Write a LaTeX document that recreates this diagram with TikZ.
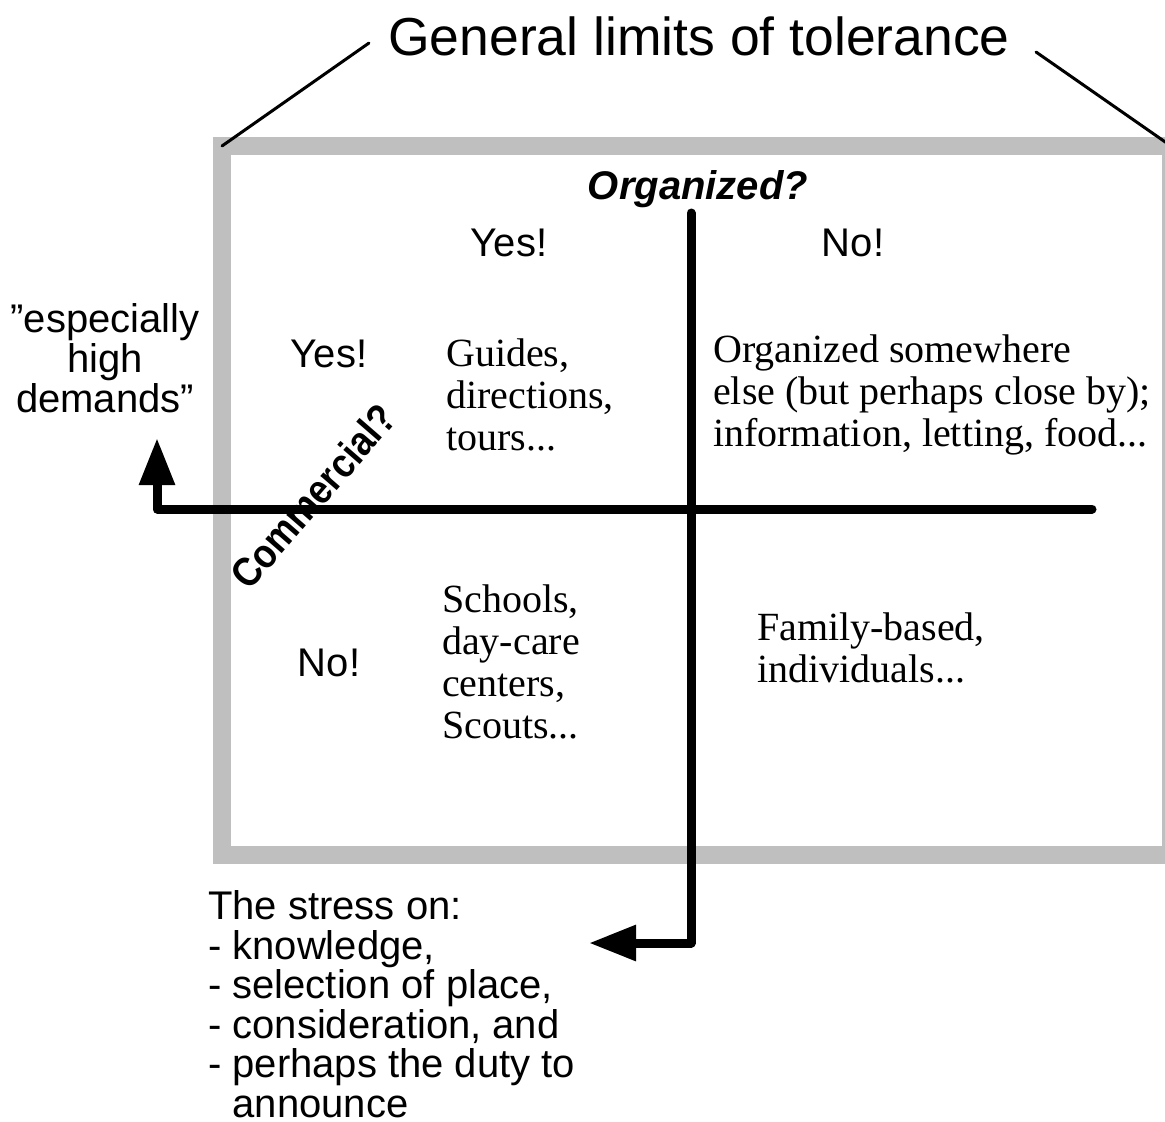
\documentclass[tikz,border=0pt]{standalone}
\usepackage{fontspec}
\setmainfont{Liberation Serif}
\setsansfont{Liberation Sans}
\usetikzlibrary{arrows.meta}
\definecolor{framegray}{RGB}{191,191,191}
\begin{document}
\begin{tikzpicture}[x=1pt,y=-1pt,
  sanslabel/.style={font=\sffamily\fontsize{40}{40}\selectfont, inner sep=0pt, anchor=base},
  sansblock/.style={font=\sffamily\fontsize{40}{39.5}\selectfont, inner sep=0pt, align=left, anchor=base west},
  seriftext/.style={font=\rmfamily\fontsize{40}{42}\selectfont, inner sep=0pt, align=left, anchor=base west},
  axislabel/.style={font=\sffamily\bfseries\itshape\fontsize{40}{40}\selectfont, inner sep=0pt},
  axisline/.style={line width=9pt, line cap=round, line join=round},
  axishead/.style={-{Triangle[length=47pt,width=34pt]}},
  leader/.style={line width=3pt, line cap=round}]
\useasboundingbox (0,0) rectangle (1165,1122);

% outer frame: the limits of tolerance
\coordinate (frameNW) at (222,146);
\coordinate (frameNE) at (1171,146);
\coordinate (frameSE) at (1171,855);
\draw[framegray, line width=18pt] (frameNW) rectangle (frameSE);

% heading with its two leader lines
\node[font=\sffamily\fontsize{53.5}{54}\selectfont, inner sep=0pt, anchor=base] (title) at (699,55) {General limits of tolerance};
\coordinate (leadL) at (369,43);
\coordinate (leadR) at (1036,52);
\draw[leader] (leadL) -- (frameNW);
\draw[leader] (leadR) -- (frameNE);

% axes
\coordinate (vTop) at (691,213);
\coordinate (vBend) at (691,943);
\coordinate (vTip) at (589,943);
\coordinate (hRight) at (1092,509);
\coordinate (hBend) at (157,509);
\coordinate (hTip) at (157,438);
\draw[axisline, axishead] (vTop) -- (vBend) -- (vTip);
\draw[axisline, axishead] (hRight) -- (hBend) -- (hTip);

% axis titles
\node[axislabel, anchor=base] (org) at (698,199) {Organized?};
\node[font=\sffamily\bfseries\fontsize{41}{41}\selectfont, inner sep=0pt, rotate=49, xscale=0.88] (com) at (313,496) {Commercial?};

% column and row answers
\node[sanslabel] (colYes) at (509,256) {Yes!};
\node[sanslabel] (colNo) at (853,256) {No!};
\node[sanslabel] (rowYes) at (329,367) {Yes!};
\node[sanslabel] (rowNo) at (329,676) {No!};

% quadrant contents (anchored at the baseline of their last line)
\node[seriftext] (q1) at (446,450) {Guides,\\directions,\\tours...};
\node[seriftext] (q2) at (713,446) {Organized somewhere\\else (but perhaps close by);\\information, letting, food...};
\node[seriftext] (q3) at (442,738) {Schools,\\day-care\\centers,\\Scouts...};
\node[seriftext] (q4) at (757,682) {Family-based,\\individuals...};

% notes at the arrow ends
\node[font=\sffamily\fontsize{40}{40}\selectfont, inner sep=0pt, align=center, anchor=base] (high) at (105,412) {”especially\\high\\demands”};
\node[sansblock] (stress) at (208,1117) {The stress on:\\- knowledge,\\- selection of place,\\- consideration, and\\- perhaps the duty to\\\phantom{-\ }announce};
\end{tikzpicture}
\end{document}
